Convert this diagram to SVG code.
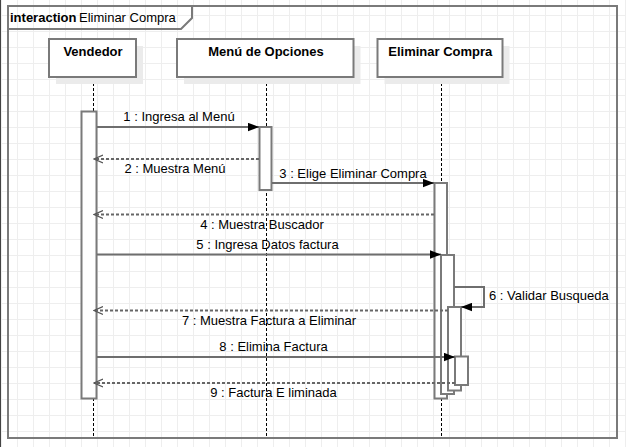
<svg xmlns="http://www.w3.org/2000/svg" width="626" height="447" viewBox="0 0 626 447">
  <defs>
    <pattern id="grid" x="0" y="0" width="16" height="16" patternUnits="userSpaceOnUse">
      <line x1="1.5" y1="0" x2="1.5" y2="16" stroke="#eeeeee" stroke-width="1"/>
      <line x1="0" y1="15.5" x2="16" y2="15.5" stroke="#eeeeee" stroke-width="1"/>
    </pattern>
    <marker id="filled" markerWidth="11" markerHeight="9" refX="11" refY="4.5" orient="auto" markerUnits="userSpaceOnUse">
      <polygon points="0,0.3 11,4.5 0,8.7" fill="#000"/>
    </marker>
    <marker id="open" markerWidth="10" markerHeight="10" refX="9" refY="5" orient="auto" markerUnits="userSpaceOnUse">
      <polyline points="0,1 9,5 0,9" fill="none" stroke="#555" stroke-width="1.2"/>
    </marker>
  </defs>
  <style>
    text { font-family: "Liberation Sans", Arial, sans-serif; font-size: 13px; fill: #000; }
    .bold { font-weight: bold; }
    .frame { fill: none; stroke: #7a7a7a; stroke-width: 2; }
    .head { fill: #fff; stroke: #7a7a7a; stroke-width: 2; }
    .shadow { fill: #ebebeb; }
    .act { fill: #fff; stroke: #7a7a7a; stroke-width: 2; }
    .life { stroke: #000; stroke-width: 1; stroke-dasharray: 3,2; fill: none; }
    .msg { stroke: #6e6e6e; stroke-width: 2; fill: none; }
    .ret { stroke: #666; stroke-width: 2; stroke-dasharray: 3,2; fill: none; }
  </style>

  <rect x="0" y="0" width="626" height="447" fill="#fff"/>
  <rect x="0" y="0" width="626" height="447" fill="url(#grid)"/>
  <line x1="0.5" y1="0" x2="0.5" y2="447" stroke="#444" stroke-width="1"/>

  <g id="frame">
    <rect class="frame" x="8" y="6" width="609" height="432"/>
    <polyline class="frame" points="8,29 181,29 192,18 192,6"/>
    <text x="10" y="22" class="bold">interaction</text>
    <text x="79" y="22">Eliminar Compra</text>
  </g>

  <g id="lifelines">
    <line class="life" x1="93.5" y1="78" x2="93.5" y2="437"/>
    <line class="life" x1="266.5" y1="78" x2="266.5" y2="437"/>
    <line class="life" x1="441.5" y1="78" x2="441.5" y2="437"/>
  </g>

  <g id="vendedor">
    <rect class="shadow" x="56" y="46" width="87" height="38"/>
    <rect class="head" x="49" y="39" width="87" height="38"/>
    <text x="93" y="56" class="bold" text-anchor="middle">Vendedor</text>
    <rect class="act" x="81.5" y="111.5" width="15" height="287"/>
  </g>

  <g id="menu">
    <rect class="shadow" x="184" y="46" width="176.5" height="38"/>
    <rect class="head" x="177" y="39" width="176.5" height="38"/>
    <text x="266" y="56" class="bold" text-anchor="middle">Menú de Opciones</text>
    <rect class="act" x="259.5" y="127" width="12" height="63"/>
  </g>

  <g id="eliminar">
    <rect class="shadow" x="384.5" y="46" width="125" height="38"/>
    <rect class="head" x="377.5" y="39" width="125" height="38"/>
    <text x="440.3" y="56" class="bold" text-anchor="middle">Eliminar Compra</text>
    <rect class="act" x="434.5" y="183" width="12.5" height="215.5"/>
    <rect class="act" x="441" y="255" width="13" height="139"/>
    <rect class="act" x="448" y="307" width="13" height="83.5"/>
    <rect class="act" x="455" y="356.5" width="13" height="28.5"/>
  </g>

  <g id="connectors">
    <line class="msg" x1="97" y1="127" x2="259" y2="127" marker-end="url(#filled)"/>
    <line class="ret" x1="259" y1="159" x2="94" y2="159" marker-end="url(#open)"/>
    <line class="msg" x1="272" y1="183" x2="434" y2="183" marker-end="url(#filled)"/>
    <line class="ret" x1="434" y1="214.5" x2="94" y2="214.5" marker-end="url(#open)"/>
    <line class="msg" x1="97" y1="254.5" x2="441" y2="254.5" marker-end="url(#filled)"/>
    <polyline class="msg" points="454,287 484,287 484,307 461,307" marker-end="url(#filled)"/>
    <line class="ret" x1="448" y1="310.5" x2="94" y2="310.5" marker-end="url(#open)"/>
    <line class="msg" x1="97" y1="357" x2="455" y2="357" marker-end="url(#filled)"/>
    <line class="ret" x1="455" y1="383" x2="94" y2="383" marker-end="url(#open)"/>
  </g>

  <g id="labels">
    <text x="179" y="121" text-anchor="middle">1 : Ingresa al Menú</text>
    <text x="175" y="173" text-anchor="middle">2 : Muestra Menú</text>
    <text x="353" y="177.5" text-anchor="middle">3 : Elige Eliminar Compra</text>
    <text x="262" y="229" text-anchor="middle">4 : Muestra Buscador</text>
    <text x="267.5" y="249" text-anchor="middle">5 : Ingresa Datos factura</text>
    <text x="489" y="300">6 : Validar Busqueda</text>
    <text x="269" y="325" text-anchor="middle">7 : Muestra Factura a Eliminar</text>
    <text x="273.5" y="350.5" text-anchor="middle">8 : Elimina Factura</text>
    <text x="273.5" y="397" text-anchor="middle">9 : Factura E liminada</text>
  </g>
</svg>
